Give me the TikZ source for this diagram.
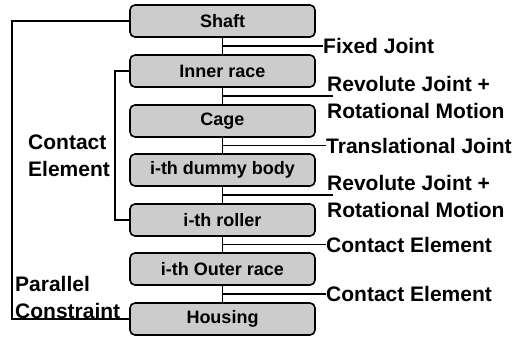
\documentclass[tikz,border=0pt]{standalone}
\usepackage{fontspec}
\setmainfont{Liberation Sans}
\usetikzlibrary{calc}
\begin{document}
\begin{tikzpicture}[x=1pt,y=-1pt,
  part/.style={draw, line width=1.6pt, rounded corners=5pt, fill=black!20,
    minimum width=185pt, minimum height=32pt, inner sep=0pt,
    font=\fontsize{18}{20}\selectfont\bfseries},
  lbl/.style={anchor=west, align=left, inner sep=0pt,
    font=\fontsize{21}{27}\selectfont\bfseries},
  link/.style={line width=1.2pt}]
\useasboundingbox (0,0) rectangle (528,341);

% bearing parts, top to bottom
\node[part] (shaft)   at (222.5,21)  {Shaft};
\node[part] (inner)   at (222.5,71)  {Inner race};
\node[part] (cage)    at (222.5,121) {Cage};
\node[part] (dummy)   at (222.5,170) {i-th dummy body};
\node[part] (roller)  at (222.5,220) {i-th roller};
\node[part] (outer)   at (222.5,269) {i-th Outer race};
\node[part] (housing) at (222.5,319) {Housing};

% central spine
\draw[link] (shaft.south) -- (inner.north);
\draw[link] (inner.south) -- (cage.north);
\draw[link] (cage.south) -- (dummy.north);
\draw[link] (dummy.south) -- (roller.north);
\draw[link] (roller.south) -- (outer.north);
\draw[link] (outer.south) -- (housing.north);

% joint points on the spine
\coordinate (g1) at ($(shaft.south)!0.5!(inner.north)$);
\coordinate (g2) at ($(inner.south)!0.5!(cage.north)$);
\coordinate (g3) at ($(cage.south)!0.5!(dummy.north)$);
\coordinate (g4) at ($(dummy.south)!0.5!(roller.north)$);
\coordinate (g5) at ($(roller.south)!0.5!(outer.north)$);
\coordinate (g6) at ($(outer.south)!0.5!(housing.north)$);

% joint labels on the right
\node[lbl] (fixed) at ($(g1)+(100.5,0)$) {Fixed Joint};
\node[lbl] (rev1)  at ($(g2)+(104.5,1)$) {Revolute Joint +\\Rotational Motion};
\node[lbl] (trans) at ($(g3)+(103.5,0)$) {Translational Joint};
\node[lbl] (rev2)  at ($(g4)+(104.5,1)$) {Revolute Joint +\\Rotational Motion};
\node[lbl] (cont1) at ($(g5)+(103.5,0)$) {Contact Element};
\node[lbl] (cont2) at ($(g6)+(103.5,0)$) {Contact Element};

\draw[link] (g1) -- (fixed.west);
\draw[link] (g2) -- ($(g2 -| rev1.west)+(6,0)$);
\draw[link] (g3) -- (trans.west);
\draw[link] (g4) -- ($(g4 -| rev2.west)+(6,0)$);
\draw[link] (g5) -- (cont1.west);
\draw[link] (g6) -- (cont2.west);

% side constraints on the left
\coordinate (outerx) at (12,0);
\coordinate (innerx) at (115,0);
\draw[link] (shaft.west) -- (shaft.west -| outerx) -- (housing.west -| outerx) -- (housing.west);
\draw[link] (inner.west) -- (inner.west -| innerx) -- (roller.west -| innerx) -- (roller.west);

\node[lbl] (contact) at (28,156) {Contact\\Element};
\node[lbl] (parallel) at (15,297) {Parallel\\Constraint};
\end{tikzpicture}
\end{document}
